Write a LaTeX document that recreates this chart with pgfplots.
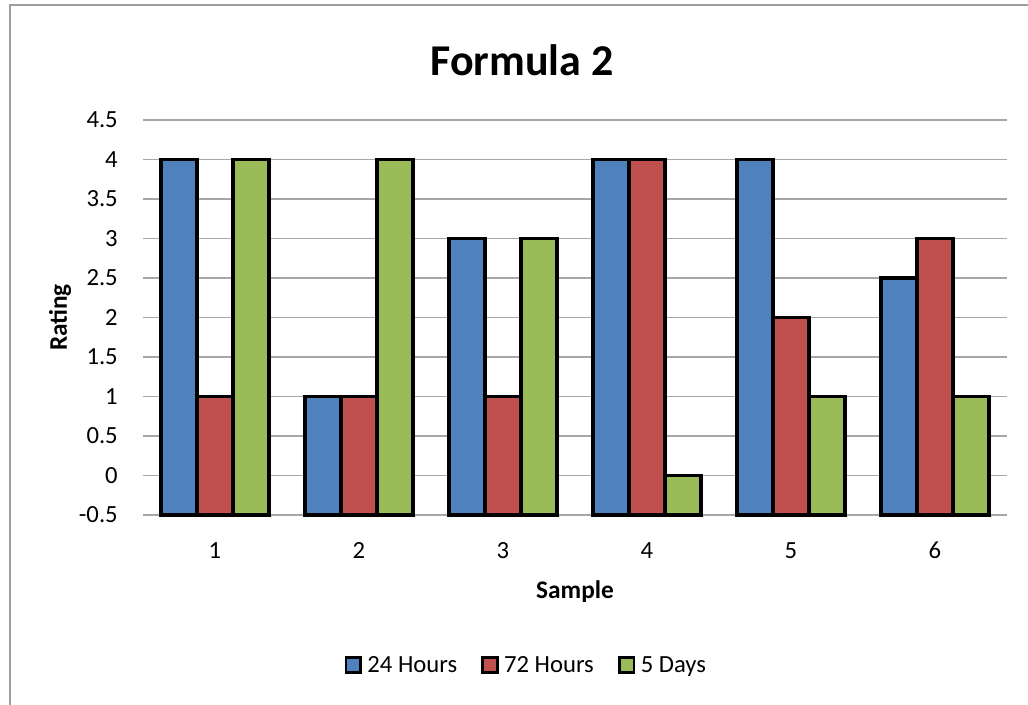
\documentclass[border=0pt]{standalone}
\usepackage{fontspec}
\setmainfont{Carlito}
\usepackage{pgfplots}
\usepackage{pgfplotstable}
\pgfplotsset{compat=1.18}
\definecolor{cblue}{HTML}{4F81BD}
\definecolor{cred}{HTML}{C0504D}
\definecolor{cgreen}{HTML}{9BBB59}
\definecolor{cgrid}{HTML}{A6A6A6}
\definecolor{cframe}{HTML}{9E9E9E}
\pgfplotstableread{
s h24 h72 d5
1 4 1 4
2 1 1 4
3 3 1 3
4 4 4 0
5 4 2 1
6 2.5 3 1
}\data
\begin{document}
\begin{tikzpicture}
\useasboundingbox (0,0) rectangle (771pt,528pt);
\draw[cframe, line width=1.6pt] (7.5pt,-20pt) -- (7.5pt,524.25pt) -- (790pt,524.25pt);
\node[font=\fontsize{33}{38}\selectfont\bfseries] at (391.5pt,483pt) {Formula 2};
\begin{axis}[
  at={(107.25pt,141.75pt)}, anchor=south west,
  scale only axis, width=648pt, height=296.25pt,
  xmin=0.5, xmax=6.5, ymin=0, ymax=5,
  axis line style={draw=none},
  tick style={draw=none},
  clip=false,
  ybar=0pt, bar width=27pt,
  xtick={1,2,3,4,5,6}, xticklabels={1,2,3,4,5,6},
  ytick={0,0.5,...,5},
  yticklabels={-0.5,0,0.5,1,1.5,2,2.5,3,3.5,4,4.5},
  /pgf/number format/assume math mode=true,
  tick label style={font=\fontsize{18.5}{21}\selectfont},
  yticklabel style={anchor=east, inner sep=0pt, xshift=-18.75pt},
  xticklabel style={anchor=base, inner sep=0pt, yshift=-32.25pt},
  major tick length=0pt,
  ymajorgrids, grid style={cgrid, line width=1pt},
  xlabel={Sample}, ylabel={Rating},
  label style={font=\fontsize{19}{22}\selectfont\bfseries},
  xlabel style={at={(axis description cs:0.5,0)}, anchor=center, yshift=-57.75pt},
  ylabel style={at={(axis description cs:0,0.5)}, anchor=center, yshift=62.25pt},
  legend columns=3,
  legend style={at={(axis description cs:0.444,-0.38)}, anchor=center, draw=none,
    font=\fontsize{18.5}{21}\selectfont, inner sep=0pt,
    /tikz/every odd column/.append style={column sep=2pt},
    /tikz/every even column/.append style={column sep=16pt}},
  legend image code/.code={\draw[#1, draw=black, line width=2.2pt] (0pt,-5.5pt) rectangle (11pt,5.5pt);},
]
\addplot[fill=cblue, draw=black, line width=2.4pt] table[x=s, y expr=\thisrow{h24}+0.5] {\data};
\addplot[fill=cred, draw=black, line width=2.4pt] table[x=s, y expr=\thisrow{h72}+0.5] {\data};
\addplot[fill=cgreen, draw=black, line width=2.4pt] table[x=s, y expr=\thisrow{d5}+0.5] {\data};
\legend{24 Hours, 72 Hours, 5 Days}
\end{axis}
\end{tikzpicture}
\end{document}
